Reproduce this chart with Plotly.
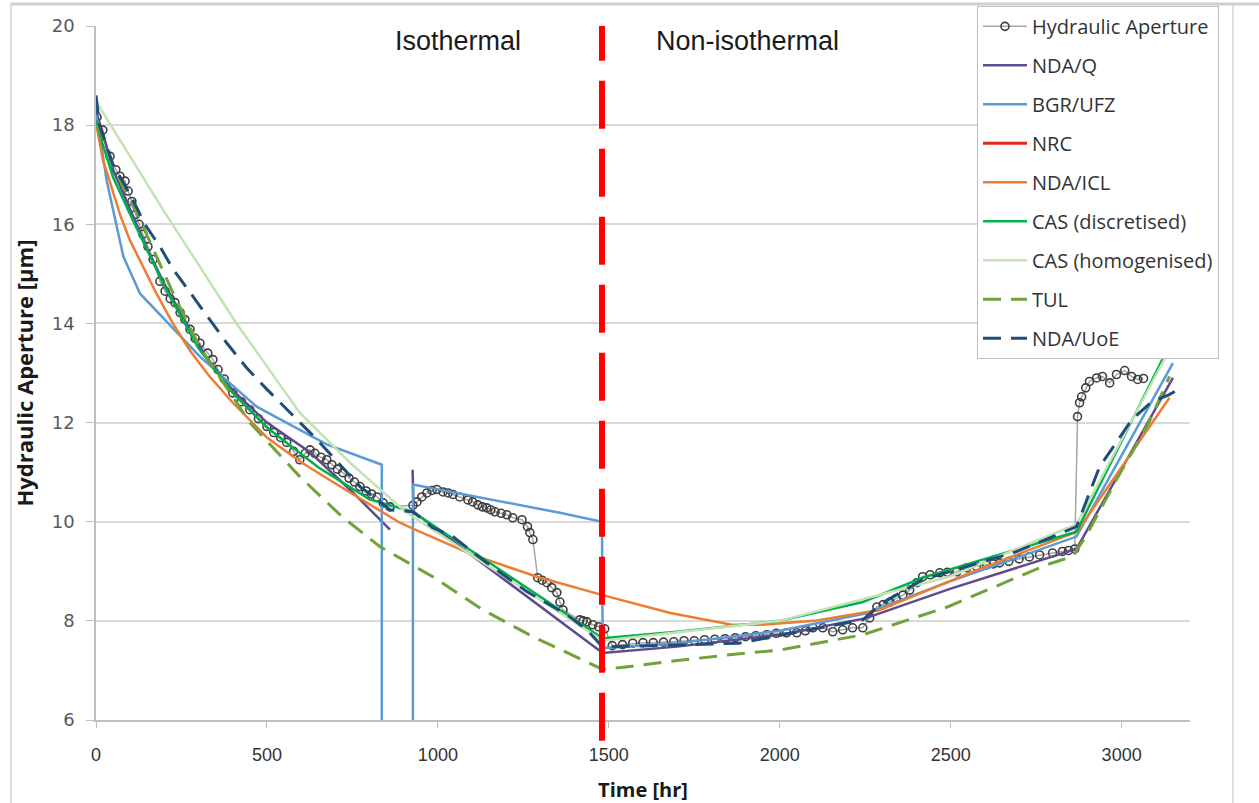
import plotly.graph_objects as go

# ---- measured hydraulic aperture (hr, µm) ----
ha_t = [3, 20, 41, 58, 70, 85, 94, 105, 116, 126, 137, 152, 167, 187, 202, 217, 231, 246, 260, 275,
        290, 304, 327, 342, 357, 375, 400, 425, 450, 475, 500, 520, 540, 558, 578, 596, 612, 626, 640,
        658, 675, 690, 706, 722, 740, 756, 772, 790, 806, 822, 840, 860,
        927, 939, 953, 968, 983, 997, 1015, 1030, 1044, 1064, 1088, 1102, 1117, 1130, 1143, 1155, 1167,
        1185, 1202, 1219, 1246, 1262, 1269, 1278,
        1292, 1305, 1319, 1333, 1348, 1357, 1366, 1415, 1425, 1436, 1453, 1470, 1488,
        1510, 1540, 1570, 1600, 1630, 1660, 1690, 1720, 1750, 1780, 1810, 1840, 1870, 1900, 1930, 1962,
        1990, 2020, 2050, 2075, 2097, 2126, 2155, 2184, 2213, 2243, 2263, 2284, 2303, 2322, 2340, 2360,
        2380, 2401, 2418, 2440, 2468, 2490, 2518, 2547, 2575, 2605, 2625, 2643, 2670, 2700, 2730, 2760,
        2798, 2827, 2845, 2863,
        2871, 2877, 2883, 2895, 2906, 2927, 2944, 2965, 2985, 3009, 3029, 3047, 3064]
ha_y = [18.16, 17.9, 17.37, 17.1, 16.97, 16.87, 16.67, 16.46, 16.2, 16.0, 15.8, 15.55, 15.29, 14.85,
        14.65, 14.5, 14.42, 14.22, 14.08, 13.88, 13.7, 13.6, 13.4, 13.27, 13.07, 12.88, 12.6, 12.42,
        12.26, 12.08, 11.92, 11.8, 11.7, 11.6, 11.42, 11.25, 11.38, 11.45, 11.38, 11.3, 11.25, 11.15,
        11.06, 10.99, 10.88, 10.8, 10.71, 10.62, 10.56, 10.5, 10.38, 10.3,
        10.33, 10.4, 10.5, 10.58, 10.63, 10.65, 10.6, 10.58, 10.55, 10.5, 10.44, 10.4, 10.34, 10.3,
        10.28, 10.24, 10.2, 10.17, 10.14, 10.08, 10.04, 9.9, 9.78, 9.64,
        8.87, 8.82, 8.77, 8.67, 8.57, 8.38, 8.22, 8.02, 8.0, 7.98, 7.92, 7.88, 7.84,
        7.5, 7.52, 7.55, 7.56, 7.56, 7.57, 7.58, 7.6, 7.6, 7.62, 7.63, 7.64, 7.66, 7.68, 7.7, 7.72,
        7.75, 7.76, 7.76, 7.8, 7.86, 7.86, 7.78, 7.82, 7.86, 7.86, 8.06, 8.28, 8.33, 8.38, 8.45, 8.52,
        8.62, 8.77, 8.89, 8.93, 8.97, 8.98, 8.99, 9.07, 9.1, 9.13, 9.15, 9.17, 9.2, 9.25, 9.29, 9.33,
        9.37, 9.4, 9.42, 9.45,
        12.12, 12.4, 12.52, 12.7, 12.83, 12.9, 12.93, 12.8, 12.97, 13.05, 12.93, 12.87, 12.89]

# ---- model results ----
ndaq_t = [0, 20, 50, 100, 150, 200, 260, 320, 400, 500, 626, 750, 860, None, 926, 929, 1482, 1700,
          2000, 2250, 2500, 2868, 3150]
ndaq_y = [18.3, 17.8, 17.1, 16.3, 15.5, 14.8, 14.05, 13.35, 12.65, 12.0, 11.4, 10.6, 9.84, None,
          11.05, 10.2, 7.35, 7.48, 7.72, 8.05, 8.65, 9.45, 12.9]

bgr_t = [0, 12, 31, 80, 129, 216, 304, 470, 675, 836, 836, 927, 927, 1357, 1480, 1482, 1700, 2000,
         2250, 2500, 2868, 3150]
bgr_y = [18.2, 17.76, 16.89, 15.35, 14.6, 13.97, 13.33, 12.32, 11.56, 11.15, 2.0, 2.0, 10.75, 10.18,
         10.0, 7.45, 7.55, 7.8, 8.15, 8.8, 9.7, 13.2]

# NRC results (no points within the plotted window)
nrc_t = [None]
nrc_y = [None]

icl_t = [0, 20, 41, 70, 99, 140, 177, 225, 275, 330, 400, 500, 600, 693, 800, 889, 927, 1102, 1290,
         1482, 1680, 1860, 1950, 2100, 2292, 2585, 2870, 3140]
icl_y = [18.05, 17.3, 16.85, 16.2, 15.68, 15.1, 14.6, 14.0, 13.45, 12.95, 12.4, 11.7, 11.2, 10.8,
         10.35, 9.98, 9.86, 9.33, 8.89, 8.52, 8.16, 7.92, 7.92, 8.0, 8.22, 9.05, 9.8, 12.5]

casd_t = [0, 20, 50, 100, 200, 300, 400, 500, 650, 800, 927, 1482, 1700, 2000, 2243, 2418, 2600,
          2868, 3150]
casd_y = [18.1, 17.6, 16.95, 16.2, 14.75, 13.5, 12.6, 11.9, 11.1, 10.45, 10.2, 7.65, 7.78, 8.0, 8.38,
          8.87, 9.25, 9.8, 13.7]

cash_t = [0, 12, 200, 411, 596, 743, 889, 927, 1482, 2000, 2500, 2868, 3150]
cash_y = [18.5, 18.35, 16.25, 14.0, 12.2, 11.19, 10.3, 10.1, 7.6, 8.0, 8.9, 9.95, 13.6]

tul_t = [0, 12, 50, 129, 226, 304, 354, 450, 596, 720, 830, 985, 1132, 1278, 1424, 1482, 1550, 1700,
         1900, 2000, 2243, 2490, 2780, 2857, 2895, 2985, 3080, 3140]
tul_y = [18.0, 17.9, 17.16, 16.09, 14.6, 13.52, 13.0, 12.0, 10.91, 10.1, 9.5, 8.89, 8.22, 7.68, 7.21,
         7.02, 7.07, 7.2, 7.35, 7.41, 7.72, 8.28, 9.13, 9.3, 9.7, 10.85, 12.0, 12.93]

uoe_t = [0, 10, 50, 100, 143, 187, 225, 283, 342, 383, 441, 500, 646, 772, 860, 927, 985, 1044,
         1143, 1260, 1378, 1436, 1482, 1700, 1880, 2243, 2300, 2418, 2545, 2690, 2868, 2935, 3030,
         3088, 3138, 3175]
uoe_y = [18.6, 18.0, 17.2, 16.6, 16.0, 15.55, 15.1, 14.55, 13.98, 13.6, 13.1, 12.67, 11.66, 10.71,
         10.24, 10.2, 9.88, 9.7, 9.17, 8.59, 8.12, 7.82, 7.47, 7.52, 7.55, 8.02, 8.36, 8.83, 9.09,
         9.39, 9.9, 11.1, 12.06, 12.42, 12.56, 12.7]

# boundary between isothermal and non-isothermal stages (hr)
phase_split = 1480

model_series = [
    ("NDA/Q", ndaq_t, ndaq_y, "#5F4B8B", "solid", 2.5),
    ("BGR/UFZ", bgr_t, bgr_y, "#5B9BD5", "solid", 2.5),
    ("NRC", nrc_t, nrc_y, "#E3261C", "solid", 3),
    ("NDA/ICL", icl_t, icl_y, "#ED7D31", "solid", 2.5),
    ("CAS (discretised)", casd_t, casd_y, "#00B050", "solid", 2.5),
    ("CAS (homogenised)", cash_t, cash_y, "#C2E3B5", "solid", 2.5),
    ("TUL", tul_t, tul_y, "#72A33A", "18px,10px", 3),
    ("NDA/UoE", uoe_t, uoe_y, "#1F4E79", "18px,10px", 3),
]

fig = go.Figure()

fig.add_trace(go.Scatter(
    x=ha_t, y=ha_y, name="Hydraulic Aperture", mode="lines+markers",
    line=dict(color="#A6A6A6", width=1.5),
    marker=dict(symbol="circle-open", size=8, color="#3F3F3F", line=dict(width=1.6)),
    legendgroup="g0",
))

for i, (name, t, y, color, dash, width) in enumerate(model_series, start=1):
    fig.add_trace(go.Scatter(
        x=t, y=y, name=name, mode="lines",
        line=dict(color=color, width=width, dash=dash),
        connectgaps=False, legendgroup=f"g{i}",
    ))

# stage divider
fig.add_shape(type="line", xref="x", yref="paper", x0=phase_split, x1=phase_split,
              y0=-0.03, y1=1.0, line=dict(color="#FF0000", width=6, dash="48px,20px"),
              layer="above")

# outer chart frame
fig.add_shape(type="rect", xref="paper", yref="paper", x0=-0.0777, x1=1.0393, y0=-0.2, y1=1.0317,
              line=dict(color="#D4D4D4", width=1.5), layer="below")
fig.add_shape(type="line", xref="paper", yref="paper", x0=-0.0777, x1=1.2, y0=1.0317, y1=1.0317,
              line=dict(color="#CFCFCF", width=3), layer="below")

fig.add_annotation(x=1058, y=19.7, text="Isothermal", showarrow=False,
                   font=dict(family="Liberation Sans, Arial", size=27, color="#1A1A1A"))
fig.add_annotation(x=1906, y=19.7, text="Non-isothermal", showarrow=False,
                   font=dict(family="Liberation Sans, Arial", size=27, color="#1A1A1A"))

fig.update_layout(
    width=1259, height=803,
    margin=dict(l=96, r=69, t=26, b=83, autoexpand=False),
    paper_bgcolor="white", plot_bgcolor="white",
    showlegend=True,
    legend=dict(
        x=0.8053, y=1.029, xanchor="left", yanchor="top",
        bgcolor="white", bordercolor="#BFBFBF", borderwidth=1,
        font=dict(family="Open Sans, Arial", size=20, color="#333333"),
        traceorder="grouped", tracegroupgap=10, itemwidth=44,
    ),
    xaxis=dict(
        range=[0, 3200], tickvals=[0, 500, 1000, 1500, 2000, 2500, 3000],
        showgrid=False, zeroline=False, automargin=False,
        showline=True, linecolor="#BFBFBF", linewidth=1.5,
        ticks="outside", ticklen=6, tickcolor="#BFBFBF",
        ticklabelstandoff=12,
        tickfont=dict(family="Liberation Sans Narrow, Arial Narrow, Arial", size=18, color="#333333"),
        title=dict(text="<b>Time [hr]</b>", standoff=22,
                   font=dict(family="Open Sans, Arial", size=20, color="#1A1A1A")),
    ),
    yaxis=dict(
        range=[6, 20], dtick=2,
        showgrid=True, gridcolor="#D9D9D9", gridwidth=1.5, zeroline=False, automargin=False,
        showline=True, linecolor="#BFBFBF", linewidth=1.5,
        ticks="outside", ticklen=8, tickcolor="#BFBFBF",
        ticklabelstandoff=8,
        tickfont=dict(family="DejaVu Sans, Verdana", size=18, color="#595959"),
        title=dict(text="<b>Hydraulic Aperture [μm]</b>", standoff=12,
                   font=dict(family="Open Sans, Arial", size=22, color="#1A1A1A")),
    ),
)

fig.write_html("out.html")
